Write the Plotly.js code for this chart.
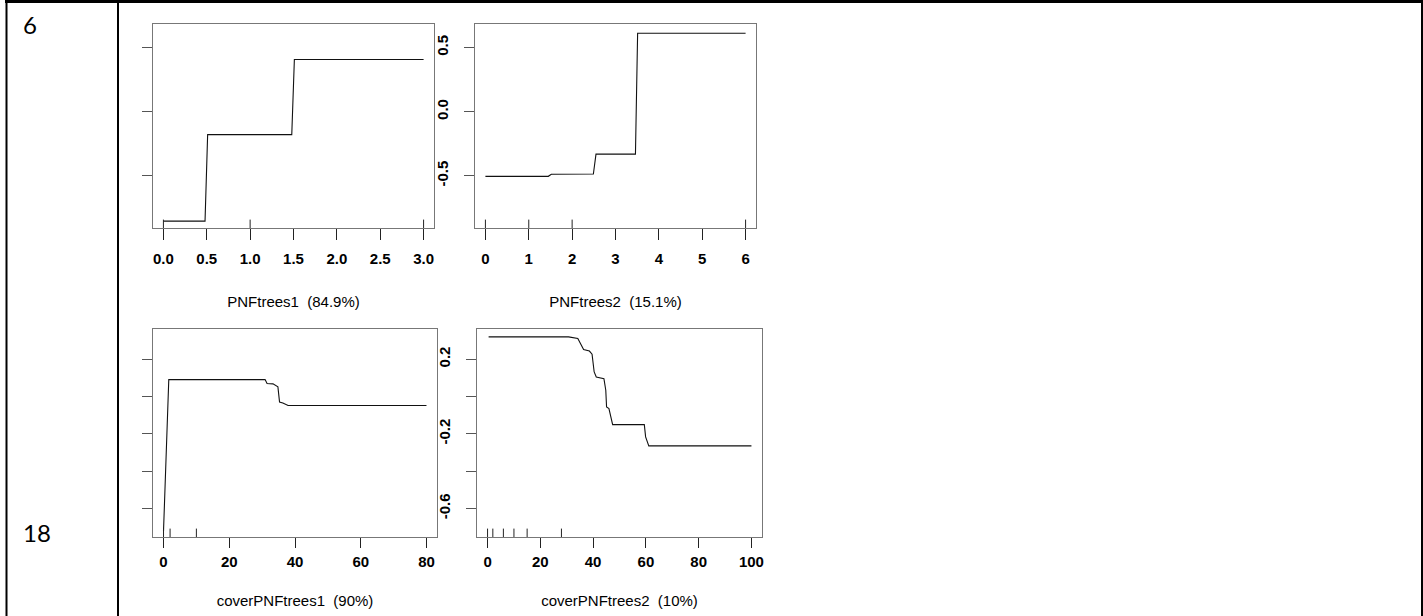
<!DOCTYPE html>
<html>
<head>
<meta charset="utf-8">
<script src="https://cdn.plot.ly/plotly-3.0.1.min.js"></script>
<style>
html,body{margin:0;padding:0;background:#fff;}
#chart{width:1423px;height:616px;}
</style>
</head>
<body>
<div id="chart"></div>
<script>
// ---- data ----
const rowLabels = ["6", "18"];
const axisTitles = ["PNFtrees1 \u00a0(84.9%)", "PNFtrees2 \u00a0(15.1%)", "coverPNFtrees1 \u00a0(90%)", "coverPNFtrees2 \u00a0(10%)"];

// PNFtrees1 partial dependence
const pnf1X = [0, 0.48, 0.51, 1.48, 1.51, 3.0];
const pnf1Y = [-0.853, -0.853, -0.179, -0.179, 0.407, 0.407];
const pnf1Rug = [0, 1, 3];

// PNFtrees2 partial dependence
const pnf2X = [0, 1.45, 1.52, 2.49, 2.55, 3.46, 3.51, 6.0];
const pnf2Y = [-0.504, -0.504, -0.488, -0.486, -0.331, -0.331, 0.612, 0.612];
const pnf2Rug = [0, 1, 2, 6];

// coverPNFtrees1 partial dependence
const cov1X = [0, 1.6, 30.9, 31.5, 33.3, 34.8, 35.3, 36.3, 37.9, 80];
const cov1Y = [-0.72, 0.091, 0.091, 0.070, 0.068, 0.052, -0.029, -0.034, -0.048, -0.048];
const cov1Rug = [0, 2, 10];

// coverPNFtrees2 partial dependence
const cov2X = [0.4, 30.7, 34.2, 36.4, 38.6, 39.6, 40.4, 41.2, 44.1, 44.8, 45.1, 46.0, 47.4, 59.4, 59.9, 61.1, 100];
const cov2Y = [0.320, 0.320, 0.311, 0.252, 0.244, 0.227, 0.132, 0.105, 0.096, 0.034, -0.056, -0.064, -0.150, -0.150, -0.216, -0.264, -0.264];
const cov2Rug = [0, 2, 6, 10, 15, 28];

// tick values / labels
const pnf1XTicks = [0, 0.5, 1, 1.5, 2, 2.5, 3];
const pnf1XText = ["0.0", "0.5", "1.0", "1.5", "2.0", "2.5", "3.0"];
const pnf2XTicks = [0, 1, 2, 3, 4, 5, 6];
const pnf2XText = ["0", "1", "2", "3", "4", "5", "6"];
const cov1XTicks = [0, 20, 40, 60, 80];
const cov1XText = ["0", "20", "40", "60", "80"];
const cov2XTicks = [0, 20, 40, 60, 80, 100];
const cov2XText = ["0", "20", "40", "60", "80", "100"];
const topYTicks = [-0.5, 0, 0.5];
const topYText = ["-0.5", "0.0", "0.5"];
const botYTicks = [-0.6, -0.4, -0.2, 0, 0.2];
const botYText = ["-0.6", "", "-0.2", "", "0.2"];

// ---- layout helpers (pixel geometry of the page) ----
const W = 1423, H = 616;
const px = v => v / W;
const py = v => 1 - v / H;

const topYRange = [-0.907, 0.684];
const botYRange = [-0.752, 0.362];

const lineStyle = {color: "#111", width: 1.1};
const rugMarker = {symbol: "line-ns-open", size: 12, color: "#222", line: {width: 1, color: "#222"}};

function lineTrace(x, y, ax, ay) {
  return {x: x, y: y, xaxis: ax, yaxis: ay, type: "scatter", mode: "lines",
          line: lineStyle, hoverinfo: "skip", showlegend: false};
}
function rugTrace(x, yBottom, ax, ay) {
  return {x: x, y: x.map(() => yBottom), xaxis: ax, yaxis: ay, type: "scatter", mode: "markers",
          marker: rugMarker, cliponaxis: true, hoverinfo: "skip", showlegend: false};
}

const traces = [
  lineTrace(pnf1X, pnf1Y, "x", "y"),
  rugTrace(pnf1Rug, topYRange[0], "x", "y"),
  lineTrace(pnf2X, pnf2Y, "x2", "y2"),
  rugTrace(pnf2Rug, topYRange[0], "x2", "y2"),
  lineTrace(cov1X, cov1Y, "x3", "y3"),
  rugTrace(cov1Rug, botYRange[0], "x3", "y3"),
  lineTrace(cov2X, cov2Y, "x4", "y4"),
  rugTrace(cov2Rug, botYRange[0], "x4", "y4")
];

const tickFont = {family: "Liberation Sans, Arial, sans-serif", size: 15, color: "#000", weight: "bold"};
const titleFont = {family: "Liberation Sans, Arial, sans-serif", size: 15, color: "#000"};

function xAxis(domain, range, vals, text, title, anchor, labelGap, titleGap, tlen) {
  return {
    domain: domain, range: range, anchor: anchor,
    tickmode: "array", tickvals: vals, ticktext: text,
    ticks: "outside", ticklen: tlen, tickwidth: 1, tickcolor: "#222",
    showline: true, mirror: true, linecolor: "#777", linewidth: 1,
    showgrid: false, zeroline: false, fixedrange: true,
    tickfont: tickFont, ticklabelstandoff: labelGap,
    title: {text: title, font: titleFont, standoff: titleGap},
    automargin: false
  };
}
function yAxis(domain, range, vals, text, showLabels, anchor) {
  return {
    domain: domain, range: range, anchor: anchor,
    tickmode: "array", tickvals: vals, ticktext: text,
    ticks: "outside", ticklen: 10, tickwidth: 1, tickcolor: "#555",
    showticklabels: showLabels, tickangle: -90,
    showline: true, mirror: true, linecolor: "#777", linewidth: 1,
    showgrid: false, zeroline: false, fixedrange: true,
    tickfont: tickFont, ticklabelstandoff: 10,
    automargin: false
  };
}

const topDom = [py(228), py(24)];
const botDom = [py(537), py(329)];

const layout = {
  width: W, height: H,
  margin: {l: 0, r: 0, t: 0, b: 0},
  paper_bgcolor: "#fff", plot_bgcolor: "#fff",
  showlegend: false,
  xaxis:  xAxis([px(153), px(434)], [-0.12, 3.12], pnf1XTicks, pnf1XText, axisTitles[0], "y", 6, 30, 11),
  yaxis:  yAxis(topDom, topYRange, topYTicks, topYText, false, "x"),
  xaxis2: xAxis([px(475), px(756)], [-0.24, 6.24], pnf2XTicks, pnf2XText, axisTitles[1], "y2", 6, 30, 11),
  yaxis2: yAxis(topDom, topYRange, topYTicks, topYText, true, "x2"),
  xaxis3: xAxis([px(153), px(437)], [-3.2, 83.2], cov1XTicks, cov1XText, axisTitles[2], "y3", 1, 26, 10),
  yaxis3: yAxis(botDom, botYRange, botYTicks, botYText, false, "x3"),
  xaxis4: xAxis([px(477), px(762)], [-4, 104], cov2XTicks, cov2XText, axisTitles[3], "y4", 1, 26, 10),
  yaxis4: yAxis(botDom, botYRange, botYTicks, botYText, true, "x4"),
  shapes: [
    {type: "line", xref: "paper", yref: "paper", x0: px(5), x1: px(1423), y0: py(1.5), y1: py(1.5), line: {color: "#000", width: 3}},
    {type: "line", xref: "paper", yref: "paper", x0: px(6.5), x1: px(6.5), y0: py(0), y1: py(616), line: {color: "#000", width: 2}},
    {type: "line", xref: "paper", yref: "paper", x0: px(118), x1: px(118), y0: py(0), y1: py(616), line: {color: "#000", width: 2}},
    {type: "line", xref: "paper", yref: "paper", x0: px(1422), x1: px(1422), y0: py(0), y1: py(616), line: {color: "#000", width: 2}}
  ],
  annotations: [
    {text: rowLabels[0], xref: "paper", yref: "paper", x: px(21), y: py(24.5), xanchor: "left", yanchor: "middle",
     showarrow: false, font: {family: "Lato, Open Sans, sans-serif", size: 24, color: "#000"}},
    {text: rowLabels[1], xref: "paper", yref: "paper", x: px(21), y: py(532.5), xanchor: "left", yanchor: "middle",
     showarrow: false, font: {family: "Lato, Open Sans, sans-serif", size: 24, color: "#000"}}
  ]
};

Plotly.newPlot("chart", traces, layout, {staticPlot: true, displayModeBar: false});
</script>
</body>
</html>
